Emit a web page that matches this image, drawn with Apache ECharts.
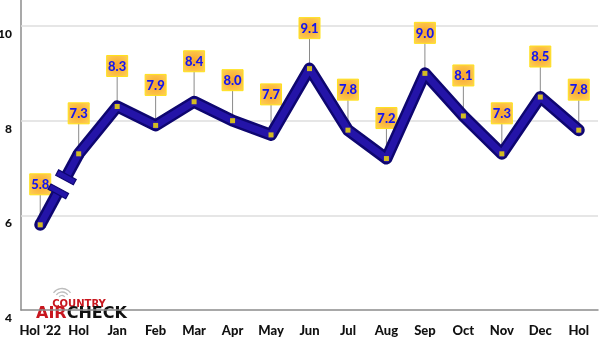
<!DOCTYPE html>
<html>
<head>
<meta charset="utf-8">
<style>
  html, body { margin: 0; padding: 0; background: #fff; }
  #chart { width: 600px; height: 343px; }
</style>
<script src="https://cdn.jsdelivr.net/npm/echarts@6/dist/echarts.min.js"></script>
</head>
<body>
<div id="chart"></div>
<script>
// Ratings by book
const categories = ["Hol '22", "Hol", "Jan", "Feb", "Mar", "Apr", "May", "Jun", "Jul", "Aug", "Sep", "Oct", "Nov", "Dec", "Hol"];
const ratings = [5.8, 7.3, 8.3, 7.9, 8.4, 8.0, 7.7, 9.1, 7.8, 7.2, 9.0, 8.1, 7.3, 8.5, 7.8];
const yTicks = [4, 6, 8, 10];

const LINE_DARK = '#0e0670';
const LINE_MID = '#2414a8';
const AXIS_FONT = 'Lato, "Liberation Sans", sans-serif';
const LOGO_FONT = '"DejaVu Sans", sans-serif';

// main line starts after the axis break
const lineData = ratings.map((v, i) => (i === 0 ? '-' : v));
const pointData = ratings.map((v, i) => [i, v]);

const chart = echarts.init(document.getElementById('chart'), null, { renderer: 'canvas' });

// value callout: leader line + orange box + number
function renderCallout(params, api) {
  const p = api.coord([api.value(0), api.value(1)]);
  const txt = Number(api.value(1)).toFixed(1);
  return {
    type: 'group',
    children: [
      { type: 'line', shape: { x1: p[0], y1: p[1], x2: p[0], y2: p[1] - 30 },
        style: { stroke: '#8a8a8a', lineWidth: 1 } },
      { type: 'rect', shape: { x: p[0] - 10.5, y: p[1] - 51, width: 21, height: 21 },
        style: {
          fill: { type: 'radial', x: 0.5, y: 0.5, r: 0.75,
            colorStops: [{ offset: 0, color: '#f8a52c' }, { offset: 1, color: '#ffd65a' }] },
          stroke: '#ffe21a', lineWidth: 1
        } },
      { type: 'text', style: { text: txt, x: p[0], y: p[1] - 40, align: 'center', verticalAlign: 'middle',
          fill: '#1616ee', fontSize: 13, fontWeight: 900, fontFamily: AXIS_FONT } }
    ]
  };
}

// first segment with the broken-axis mark
function renderBreak(params, api) {
  const a = api.coord([0, ratings[0]]);
  const b = api.coord([1, ratings[1]]);
  const dx = b[0] - a[0], dy = b[1] - a[1];
  const len = Math.sqrt(dx * dx + dy * dy);
  const ux = dx / len, uy = dy / len;
  const nx = -uy, ny = ux;
  const c = [a[0] + dx * 0.57, a[1] + dy * 0.57];
  const off = 8, half = 10, th = 3;
  const e1 = [c[0] - ux * off, c[1] - uy * off];
  const e2 = [c[0] + ux * off, c[1] + uy * off];
  function bar(m) {
    return {
      type: 'polygon',
      shape: { points: [
        [m[0] + nx * half - ux * th, m[1] + ny * half - uy * th],
        [m[0] + nx * half + ux * th, m[1] + ny * half + uy * th],
        [m[0] - nx * half + ux * th, m[1] - ny * half + uy * th],
        [m[0] - nx * half - ux * th, m[1] - ny * half - uy * th]
      ] },
      style: { fill: LINE_MID, stroke: LINE_DARK, lineWidth: 1.2 }
    };
  }
  function seg(p, q, w, col) {
    return { type: 'line', shape: { x1: p[0], y1: p[1], x2: q[0], y2: q[1] },
      style: { stroke: col, lineWidth: w, lineCap: 'butt' } };
  }
  return {
    type: 'group',
    children: [
      { type: 'circle', shape: { cx: a[0], cy: a[1], r: 6 }, style: { fill: LINE_DARK } },
      seg(a, e1, 12, LINE_DARK),
      seg(e2, b, 12, LINE_DARK),
      { type: 'circle', shape: { cx: a[0], cy: a[1], r: 3.5 }, style: { fill: LINE_MID } },
      seg(a, e1, 7, LINE_MID),
      seg(e2, b, 7, LINE_MID),
      bar(e1),
      bar(e2)
    ]
  };
}

const option = {
  animation: false,
  grid: { left: 21, right: 2, top: 0, bottom: 33, containLabel: false, outerBoundsMode: 'none' },
  xAxis: {
    type: 'category',
    data: categories,
    boundaryGap: true,
    axisLine: { lineStyle: { color: '#8c8c8c', width: 1.5 } },
    axisTick: { inside: true, length: 9, alignWithLabel: true, lineStyle: { color: '#8c8c8c', width: 1 } },
    axisLabel: { margin: 14, color: '#111', fontWeight: 900, fontSize: 13, fontFamily: AXIS_FONT, interval: 0 },
    splitLine: { show: false }
  },
  yAxis: {
    type: 'value',
    min: 4,
    max: 10.55,
    interval: 2,
    axisLine: { show: true, lineStyle: { color: '#8c8c8c', width: 1.5 } },
    axisTick: { show: false },
    splitLine: { show: false },
    axisLabel: {
      margin: 9, color: '#111', fontWeight: 900, fontSize: 12, fontFamily: AXIS_FONT,
      verticalAlign: 'top', padding: [2, 0, 0, 0],
      formatter: v => (yTicks.includes(v) ? String(v) : '')
    }
  },
  series: [
    {
      type: 'line', data: lineData, z: 3, symbol: 'none', silent: true,
      lineStyle: { color: LINE_DARK, width: 12, cap: 'round', join: 'round' },
      markLine: {
        silent: true, symbol: 'none', label: { show: false }, z: 1,
        lineStyle: { color: '#dedede', width: 1.5, type: 'solid' },
        data: yTicks.filter(v => v > 4).map(v => ({ yAxis: v }))
      }
    },
    {
      type: 'line', data: lineData, z: 4, symbol: 'none', silent: true,
      lineStyle: { color: LINE_MID, width: 7, cap: 'round', join: 'round' }
    },
    { type: 'custom', data: [[0, ratings[0]]], renderItem: renderBreak, z: 4, silent: true },
    { type: 'custom', data: pointData, renderItem: renderCallout, z: 2, silent: true },
    {
      type: 'scatter', data: pointData, z: 6, symbol: 'rect', symbolSize: 5, silent: true,
      itemStyle: { color: '#ffe600' }
    }
  ],
  graphic: [
    {
      type: 'group', left: 33, top: 286, z: 100,
      children: [
        { type: 'rect', shape: { x: 0, y: 0, width: 100, height: 34 }, style: { fill: '#fff' } },
        { type: 'arc', shape: { cx: 29, cy: 12, r: 3.5, startAngle: Math.PI * 1.2, endAngle: Math.PI * 1.8 },
          style: { stroke: '#bdbdbd', lineWidth: 1.3, fill: 'none' } },
        { type: 'arc', shape: { cx: 29, cy: 12, r: 7, startAngle: Math.PI * 1.2, endAngle: Math.PI * 1.8 },
          style: { stroke: '#bdbdbd', lineWidth: 1.3, fill: 'none' } },
        { type: 'arc', shape: { cx: 29, cy: 12, r: 10.5, startAngle: Math.PI * 1.2, endAngle: Math.PI * 1.8 },
          style: { stroke: '#bdbdbd', lineWidth: 1.3, fill: 'none' } },
        { type: 'text', style: { text: 'COUNTRY', x: 46, y: 17, align: 'center', verticalAlign: 'middle',
            fill: '#c8161e', fontSize: 10, fontWeight: 'bold', fontFamily: LOGO_FONT } },
        { type: 'text', style: { text: '{a|AIR}{c|CHECK}', x: 3, y: 27, align: 'left', verticalAlign: 'middle',
            rich: {
              a: { fill: '#c8161e', fontSize: 16, fontWeight: 'bold', fontFamily: LOGO_FONT },
              c: { fill: '#111', fontSize: 16, fontWeight: 'bold', fontFamily: LOGO_FONT }
            } } }
      ]
    }
  ]
};

chart.setOption(option);
</script>
</body>
</html>
